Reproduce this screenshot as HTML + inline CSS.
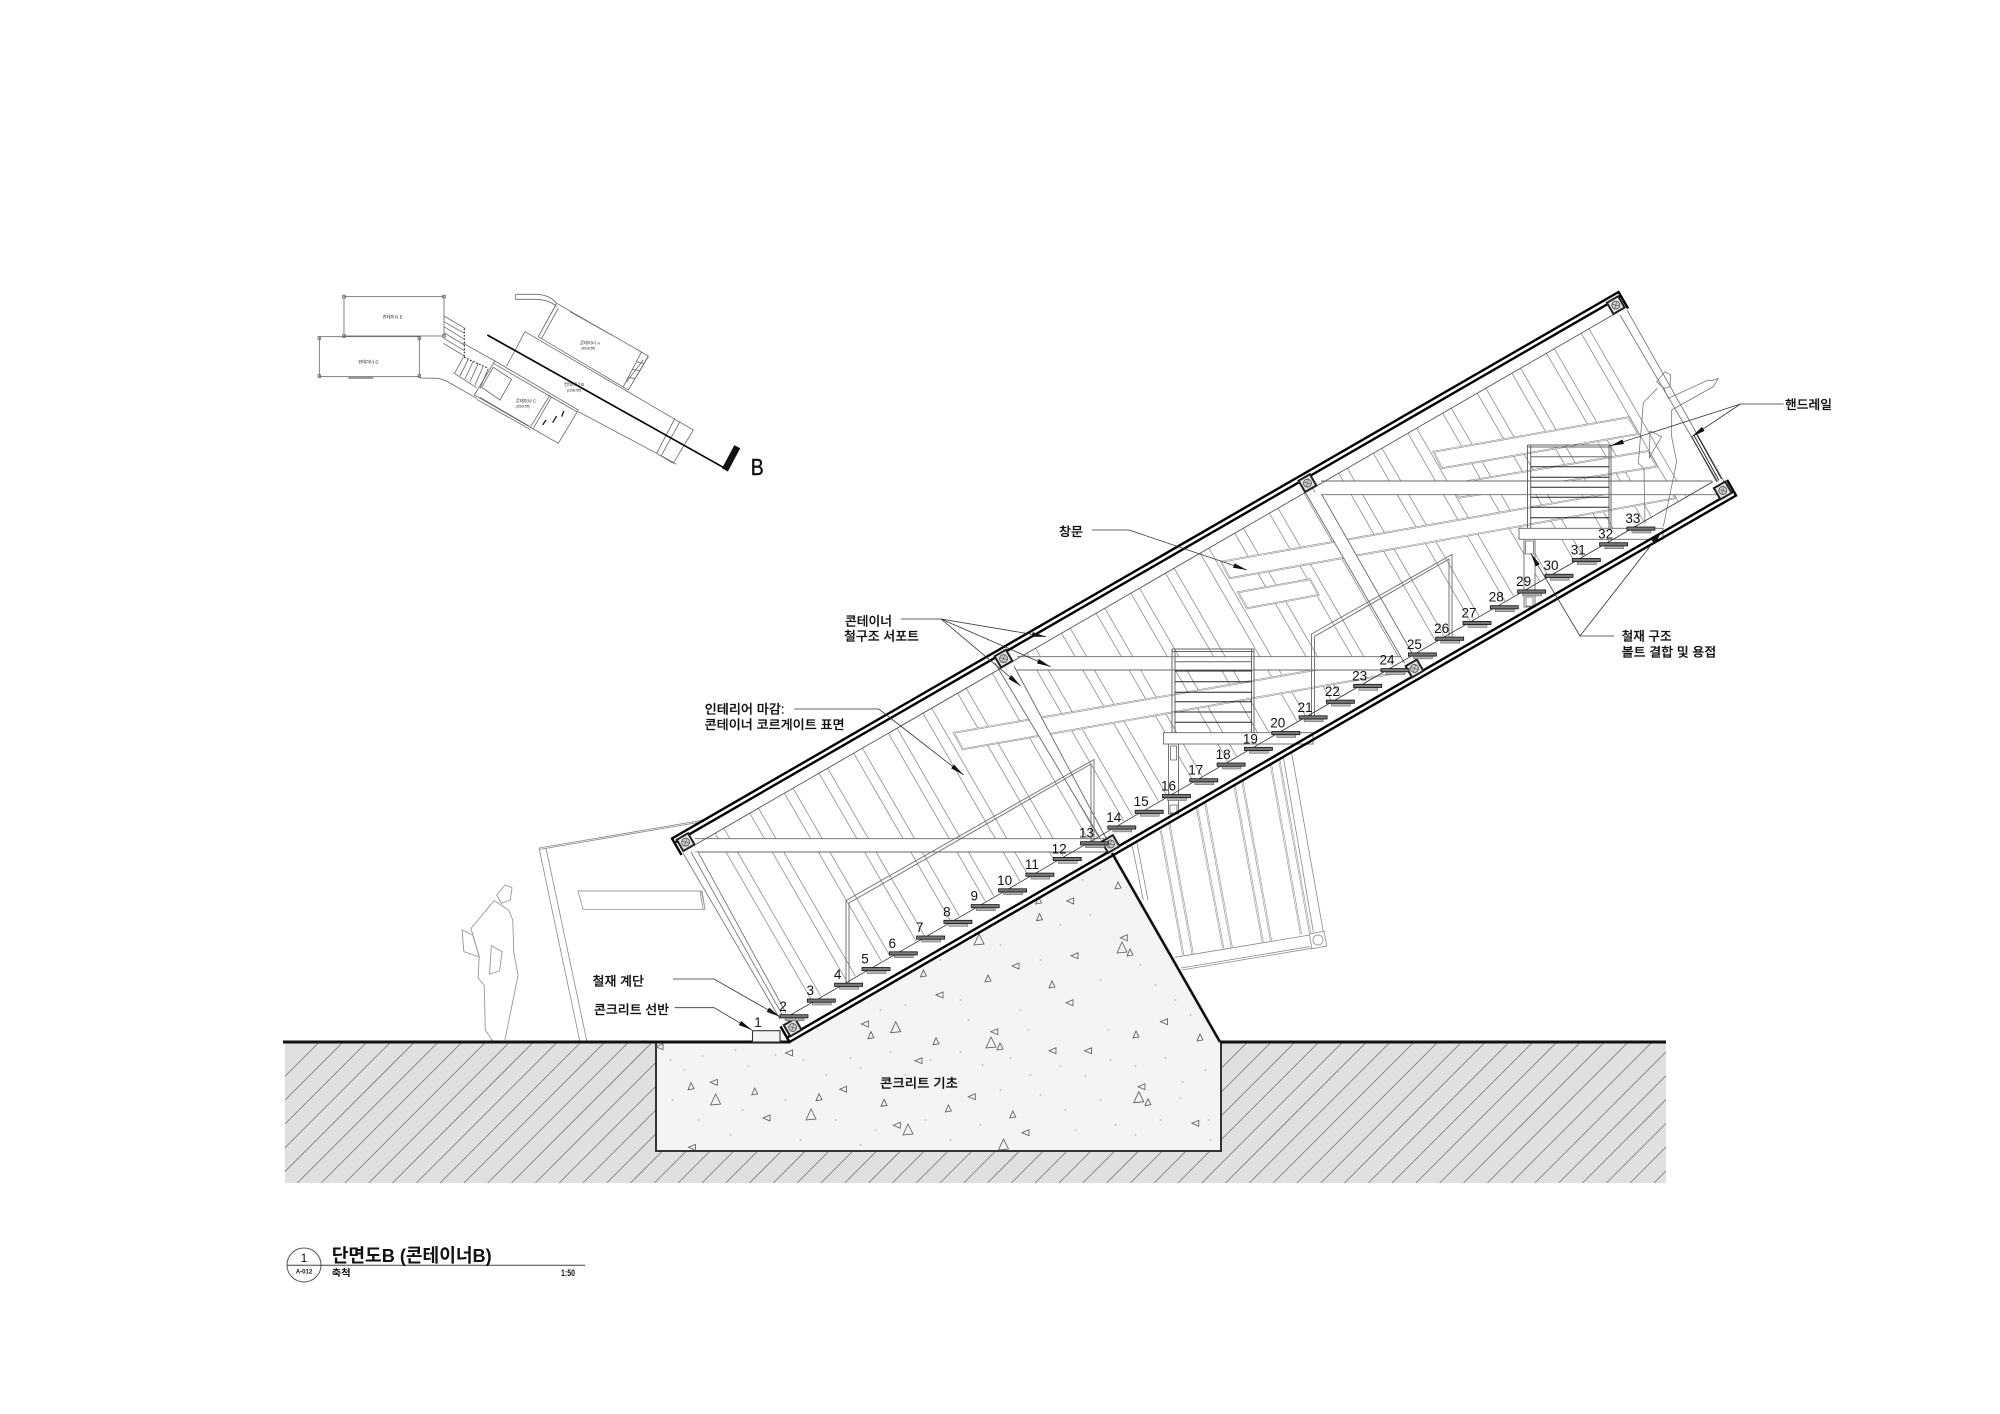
<!DOCTYPE html>
<html lang="ko"><head><meta charset="utf-8"><title>단면도B (콘테이너B)</title>
<style>html,body{margin:0;padding:0;background:#fff}svg{display:block;position:absolute;left:0;top:0}
text{font-family:"Liberation Sans","Noto Sans CJK KR",sans-serif;fill:#111}
.l{font-size:12.5px;font-weight:500;stroke:#111;stroke-width:.18px}.n{font-size:13.5px;text-anchor:middle}.m{font-size:13px;text-anchor:middle;fill:#222}</style></head>
<body>
<svg width="2000" height="1414" viewBox="0 0 2000 1414" xmlns="http://www.w3.org/2000/svg" fill="none">
<defs>
<marker id="a" markerUnits="userSpaceOnUse" markerWidth="15" markerHeight="7" refX="14" refY="3" orient="auto"><path d="M0,0.6 L14,3 L0,5.4 Z" fill="#111"/></marker>
<g id="s"><rect x="-9" y="1.2" width="19" height="2.8" fill="#b5b5b5" stroke="#555" stroke-width=".5"/><rect x="-14" y="-2" width="28" height="3.2" fill="#777" stroke="#111" stroke-width=".8"/></g>
<g id="p"><rect x="-7.5" y="-7.5" width="15" height="15" fill="#222"/><rect x="-5.5" y="-5.5" width="11" height="11" fill="#e4e4e4"/><circle r="4" fill="#ccc" stroke="#444" stroke-width=".7"/><path d="M-2.6,-2.6L2.6,2.6M-2.6,2.6L2.6,-2.6" stroke="#555" stroke-width=".6"/></g>
<path id="t" d="M-3,3 L3,2 L0,-4 Z" stroke="#555" stroke-width=".8"/>
<path id="u" d="M3,-3 L3,3 L-4,0 Z" stroke="#555" stroke-width=".8"/>
<path id="T" d="M-5,5 L5,4 L0,-6 Z" stroke="#555" stroke-width=".8"/>
</defs>

<!-- ground -->
<rect x="285" y="1042" width="1381" height="141" fill="#e0e0e0"/>
<clipPath id="gc"><rect x="285" y="1043" width="1381" height="140"/></clipPath>
<path clip-path="url(#gc)" stroke="#777" stroke-width=".8" d="M178.3,1183 l141,-141 M202.1,1183 l141,-141 M225.9,1183 l141,-141 M249.7,1183 l141,-141 M273.5,1183 l141,-141 M297.3,1183 l141,-141 M321.1,1183 l141,-141 M344.9,1183 l141,-141 M368.7,1183 l141,-141 M392.5,1183 l141,-141 M416.3,1183 l141,-141 M440.1,1183 l141,-141 M463.9,1183 l141,-141 M487.7,1183 l141,-141 M511.5,1183 l141,-141 M535.3,1183 l141,-141 M559.1,1183 l141,-141 M582.9,1183 l141,-141 M606.7,1183 l141,-141 M630.5,1183 l141,-141 M654.3,1183 l141,-141 M678.1,1183 l141,-141 M701.9,1183 l141,-141 M725.7,1183 l141,-141 M749.5,1183 l141,-141 M773.3,1183 l141,-141 M797.1,1183 l141,-141 M820.9,1183 l141,-141 M844.7,1183 l141,-141 M868.5,1183 l141,-141 M892.3,1183 l141,-141 M916.1,1183 l141,-141 M939.9,1183 l141,-141 M963.7,1183 l141,-141 M987.5,1183 l141,-141 M1011.3,1183 l141,-141 M1035.1,1183 l141,-141 M1058.9,1183 l141,-141 M1082.7,1183 l141,-141 M1106.5,1183 l141,-141 M1130.3,1183 l141,-141 M1154.1,1183 l141,-141 M1177.9,1183 l141,-141 M1201.7,1183 l141,-141 M1225.5,1183 l141,-141 M1249.3,1183 l141,-141 M1273.1,1183 l141,-141 M1296.9,1183 l141,-141 M1320.7,1183 l141,-141 M1344.5,1183 l141,-141 M1368.3,1183 l141,-141 M1392.1,1183 l141,-141 M1415.9,1183 l141,-141 M1439.7,1183 l141,-141 M1463.5,1183 l141,-141 M1487.3,1183 l141,-141 M1511.1,1183 l141,-141 M1534.9,1183 l141,-141 M1558.7,1183 l141,-141 M1582.5,1183 l141,-141 M1606.3,1183 l141,-141 M1630.1,1183 l141,-141 M1653.9,1183 l141,-141"/>

<!-- rear container left -->
<path stroke="#888" stroke-width=".8" d="M539,848L704,820M539,849.5L704,821.5M539,848L580,1042M546,848L587,1042"/>
<path stroke="#999" stroke-width=".9" d="M578,891H701.4L705,909.3H582.9ZM700,891L703,909M702,891L705,909"/>
<!-- left person -->
<g transform="translate(280,840) scale(.357,.3333)" stroke="#999" stroke-width="2.6">
<path d="M630,135L650,143L645,180L620,190L607,165Z"/>
<path d="M600,182L640,210L652,240L655,340L667,405L630,600M597,605L575,570L572,435L555,415L558,350L535,265L600,182"/>
<path d="M510,270L540,285L558,350L515,335Z"/>
<path d="M592,317L622,335L615,393L587,402Z"/>
</g>

<!-- rear container right -->
<path stroke="#999" stroke-width="2" d="M1160.7,830L1183.3,955M1169.3,823.3L1192.7,954M1196.7,806.7L1223.3,948.3M1205,801.7L1231.7,947.3M1234.3,785L1262.7,941.7M1242.3,780.7L1271,940.7M1270.7,763.3L1301,934.3M1279,758.3L1310,933.3"/>
<path stroke="#fff" stroke-width=".7" d="M1160.7,830L1183.3,955M1169.3,823.3L1192.7,954M1196.7,806.7L1223.3,948.3M1205,801.7L1231.7,947.3M1234.3,785L1262.7,941.7M1242.3,780.7L1271,940.7M1270.7,763.3L1301,934.3M1279,758.3L1310,933.3"/>
<path stroke="#888" stroke-width=".8" d="M1283.3,756.7L1313.3,931.7M1291.7,753.3L1323.3,931.7M1131.7,843.3L1143.3,900M1137,843L1148,900M1175,957.3L1310,935M1181.7,970L1311.7,948.3M1181,968L1310,946.5"/>
<g transform="translate(1318,940) rotate(-10)" stroke="#999" stroke-width=".9"><rect x="-7.5" y="-7.5" width="15" height="15"/><circle r="5"/></g>

<!-- concrete foundation -->
<path d="M656,1042H789.5L1112,853L1220,1042V1151H656Z" fill="#f4f4f4"/>
<path stroke="#333" stroke-width="2" d="M656,1042V1151H1221V1042"/>
<path stroke="#111" stroke-width="2.6" d="M1112,853L1220,1042"/>
<path stroke="#111" stroke-width="3" d="M283,1042H790M1220,1042H1666"/>
<path stroke="#999" stroke-width=".9" stroke-linecap="round" d="M670,1060h1M684,1070h1M702,1056h1M735,1050h1M748,1066h1M775,1055h1M803,1060h1M826,1075h1M850,1058h1M860,1068h1M890,1052h1M905,1075h1M930,1060h1M960,1052h1M982,1065h1M1010,1058h1M1030,1075h1M1060,1066h1M1085,1076h1M1110,1060h1M1135,1066h1M1165,1058h1M1182,1082h1M1205,1070h1M672,1100h1M698,1120h1M730,1135h1M742,1110h1M785,1100h1M800,1140h1M835,1120h1M860,1145h1M875,1130h1M925,1120h1M950,1140h1M980,1125h1M1000,1090h1M1040,1095h1M1065,1110h1M1075,1130h1M1100,1100h1M1115,1125h1M1135,1135h1M1160,1120h1M1180,1098h1M1208,1120h1M1210,1140h1M850,1000h1M880,1010h1M905,1005h1M940,960h1M960,1000h1M1000,945h1M1020,1010h1M1040,960h1M1060,925h1M1090,915h1M1100,980h1M1140,965h1M1155,985h1M1175,1000h1M1190,1015h1M1108,1030h1M1028,1030h1M968,1020h1M1082,880h1M1100,870h1M1065,880h1"/>
<use href="#t" x="1118" y="886"/><use href="#t" x="1038.6" y="901"/><use href="#u" x="1070.7" y="901"/><use href="#t" x="1039.5" y="917.7"/><use href="#u" x="1124.3" y="937.7"/><use href="#T" x="1122" y="948"/><use href="#t" x="1130" y="953"/><use href="#T" x="979" y="940"/><use href="#u" x="1075" y="955.7"/><use href="#u" x="1016" y="966"/><use href="#t" x="923.4" y="974"/><use href="#t" x="988" y="979"/><use href="#t" x="1052" y="985"/><use href="#u" x="940" y="995"/><use href="#u" x="1070" y="1002.7"/><use href="#u" x="1164.5" y="1021.7"/><use href="#t" x="1200" y="1038"/><use href="#t" x="1136" y="1035"/><use href="#u" x="865.4" y="1024"/><use href="#T" x="895.7" y="1027.7"/><use href="#t" x="871" y="1035.7"/><use href="#t" x="936" y="1041.7"/><use href="#u" x="994.8" y="1031.7"/><use href="#T" x="991" y="1043"/><use href="#t" x="1000" y="1047"/><use href="#u" x="1053" y="1050.7"/><use href="#u" x="1088.6" y="1050.7"/><use href="#u" x="789.5" y="1053"/><use href="#u" x="919" y="1060.7"/><use href="#u" x="660" y="1046.7"/><use href="#u" x="714.3" y="1082.3"/><use href="#t" x="691" y="1086.7"/><use href="#t" x="754.7" y="1092"/><use href="#T" x="715.6" y="1100"/><use href="#t" x="819" y="1097.7"/><use href="#u" x="843.6" y="1089.3"/><use href="#T" x="811" y="1115"/><use href="#u" x="767" y="1118"/><use href="#t" x="884" y="1103.3"/><use href="#t" x="948.4" y="1109"/><use href="#u" x="897.3" y="1125.3"/><use href="#T" x="908" y="1130"/><use href="#u" x="972.3" y="1096.7"/><use href="#t" x="1012.8" y="1115"/><use href="#u" x="1026" y="1132.7"/><use href="#T" x="1003.5" y="1145"/><use href="#u" x="1142" y="1086.7"/><use href="#T" x="1138.8" y="1097.7"/><use href="#t" x="1148" y="1102.7"/><use href="#u" x="1195.8" y="1123.3"/><use href="#u" x="692.4" y="1147.3"/>

<!-- container interior, hatch -->
<g transform="translate(789.5,1042) rotate(-30)">
<path stroke="#8c8c8c" stroke-width=".8" d="M40,-218V-24M50,-218V-24M80,-218V-24M90,-218V-24M120,-218V-24M130,-218V-24M160,-218V-24M170,-218V-24M200,-218V-24M210,-218V-24M240,-218V-24M250,-218V-24M280,-218V-24M290,-218V-24M320,-218V-24M330,-218V-24M360,-218V-24M370,-218V-24M400,-218V-24M410,-218V-24M440,-218V-24M450,-218V-24M480,-218V-24M490,-218V-24M520,-218V-24M530,-218V-24M560,-218V-24M570,-218V-24M600,-218V-24M610,-218V-24M640,-218V-24M650,-218V-24M680,-218V-24M690,-218V-24M720,-218V-24M730,-218V-24M760,-218V-24M770,-218V-24M800,-218V-24M810,-218V-24M840,-218V-24M850,-218V-24M880,-218V-24M890,-218V-24M920,-218V-24M930,-218V-24M960,-218V-24M970,-218V-24M1000,-218V-24M1009,-218V-24M1040,-218V-24M1049,-218V-24"/>
</g>

<!-- windows -->
<g fill="#fff" stroke="#8a8a8a" stroke-width="1.8">
<path d="M1221,561.7L1668,483L1675,498.3L1229.6,578.3Z"/>
<path d="M1433.4,451.7L1628.6,417.3L1638.3,434L1442,468.3Z"/>
<path d="M1450,484L1648.3,451L1656.7,466.7L1459,497.7Z"/>
<path d="M1238,592.3L1310,579.3L1318.6,595L1247,608.3Z"/>
<path d="M953.8,732.7L1390,657L1402,672L962.7,749.3Z"/>
</g>
<g stroke="#fff" stroke-width=".6">
<path d="M1221,561.7L1668,483L1675,498.3L1229.6,578.3Z"/>
<path d="M1433.4,451.7L1628.6,417.3L1638.3,434L1442,468.3Z"/>
<path d="M1450,484L1648.3,451L1656.7,466.7L1459,497.7Z"/>
<path d="M1238,592.3L1310,579.3L1318.6,595L1247,608.3Z"/>
<path d="M953.8,732.7L1390,657L1402,672L962.7,749.3Z"/>
</g>

<!-- beams -->
<g fill="#fff" stroke="none"><rect x="693" y="838.7" width="412" height="13.3"/><rect x="1017" y="656.7" width="385" height="13.3"/><rect x="1321" y="481" width="396" height="13.7"/></g>
<path stroke="#666" stroke-width=".9" d="M695,838.7H1104M695,852H1106M1017,656.7H1402M1017,670H1395M1321,481H1712M1321,494.7H1717"/>
<!-- diagonal supports -->
<path fill="#fff" d="M997,667L1016,668L1106,838H1100Z"/>
<path stroke="#666" stroke-width=".9" d="M995,663L1100,838M1014,666L1106,838"/>
<path fill="#fff" d="M1304,490L1321.5,494L1418,664L1405,664Z"/>
<path stroke="#666" stroke-width=".9" d="M1304,490L1404.7,663.3M1321.5,494L1416,660"/>
<path fill="#fff" d="M683,853L698,852L786,1015L778,1018Z"/>
<path stroke="#777" stroke-width=".9" d="M683,853L780,1019M691,852L784,1018M698,852L786,1013"/>
<path fill="#fff" d="M1620,315L1627,310L1727,487L1718,482Z" stroke="none"/>
<path stroke="#777" stroke-width=".9" d="M1620,315L1718,482M1627,310L1727,487"/>
<path stroke="#222" stroke-width=".9" d="M1691.7,436.7L1716.7,481.7M1694,435.5L1719,480.5M1696.5,434L1721.5,479"/>

<!-- rear-lying columns under landings -->
<rect x="1168.5" y="744" width="10" height="70" fill="#fff" stroke="#666" stroke-width=".9"/>
<rect x="1170.5" y="746" width="6" height="14" stroke="#555" stroke-width=".7"/>
<rect x="1170" y="805" width="7" height="8" stroke="#555" stroke-width=".7"/>
<rect x="1524" y="539" width="11" height="68" fill="#fff" stroke="#666" stroke-width=".9"/>
<rect x="1525.5" y="541" width="8" height="13" stroke="#555" stroke-width=".7"/>
<rect x="1526" y="597" width="7" height="9" stroke="#555" stroke-width=".7"/>

<!-- landing 1 -->
<rect x="1163.6" y="732.7" width="149.4" height="11.3" fill="#fff" stroke="#666" stroke-width=".9"/>
<path stroke="#666" stroke-width="1" d="M1172,649V732.7M1175,649V732.7M1251.5,649V732.7M1254,649V732.7M1172,649H1254M1172,651.5H1254M1175,661.7H1252"/>
<path stroke="#222" stroke-width="1" d="M1175,671H1252M1175,681.7H1252M1175,692.3H1252M1175,701.7H1252M1175,712H1252M1175,722.3H1252"/>
<!-- landing 2 -->
<rect x="1519" y="528.3" width="144" height="11" fill="#fff" stroke="#666" stroke-width=".9"/>
<path stroke="#666" stroke-width="1" d="M1527.5,445V528.3M1530.7,445V528.3M1609,445V528.3M1611,445V528.3M1527.5,445H1611M1527.5,447H1611M1530.7,456.7H1609"/>
<path stroke="#222" stroke-width="1" d="M1530.7,466.7H1609M1530.7,477.3H1609M1530.7,487.3H1609M1530.7,497.3H1609M1530.7,507.3H1609M1530.7,517.7H1609"/>

<!-- railings -->
<path stroke="#777" stroke-width="1" d="M846,985V900.5L1094,759.5V842M849,985V903L1091,764V842"/>
<path stroke="#777" stroke-width="1" d="M1311.5,717V634L1452,554.5V638M1314.5,717V636.5L1449,559V638"/>

<!-- right person -->
<g transform="translate(1500,290) scale(.3333)" stroke="#777" stroke-width="2.4">
<path d="M495,245L512,255L510,290L492,295L470,275Z"/>
<path d="M472,295L430,338L415,520L432,535L435,700M490,710L530,515L515,440L515,360M492,295L505,325L625,270L635,272L655,265L640,290L515,360"/>
<path d="M450,423L485,440L455,490L448,505Z"/>
</g>

<!-- chords and posts -->
<g transform="translate(789.5,1042) rotate(-30)">
<path stroke="#555" stroke-width=".9" d="M18,-218L1084,-218"/>
<path stroke="#000" stroke-width="2.4" d="M-1,-235H1094M0,-230H1093M-1,0H1094M0,-5H1093M0,-235V-216M1093,-235V-216M0,0V-18M1093,0V-18"/>
<use href="#p" x="10" y="-225"/><use href="#p" x="377" y="-225"/><use href="#p" x="728" y="-225"/><use href="#p" x="1084" y="-225"/>
<use href="#p" x="10" y="-11"/><use href="#p" x="377" y="-11"/><use href="#p" x="728" y="-11"/><use href="#p" x="1084" y="-11"/>
</g>

<!-- stair -->
<path stroke="#333" stroke-width=".8" d="M787,1017L1713,481.6"/>
<rect x="752.5" y="1030.7" width="27.5" height="11.3" fill="#f4f4f4" stroke="#333" stroke-width="1.1"/>
<use href="#s" x="794" y="1016.7"/><use href="#s" x="821.3" y="1001"/><use href="#s" x="848.6" y="985.2"/><use href="#s" x="876" y="969.5"/><use href="#s" x="903.3" y="953.8"/><use href="#s" x="930.6" y="938"/><use href="#s" x="957.9" y="922.3"/><use href="#s" x="985.2" y="906.6"/><use href="#s" x="1012.6" y="890.8"/><use href="#s" x="1039.9" y="875.1"/><use href="#s" x="1067.2" y="859.4"/><use href="#s" x="1094.5" y="843.7"/><use href="#s" x="1121.8" y="827.9"/><use href="#s" x="1149.2" y="812.2"/><use href="#s" x="1176.5" y="796.5"/><use href="#s" x="1203.8" y="780.7"/><use href="#s" x="1231.1" y="765"/><use href="#s" x="1258.4" y="749.3"/><use href="#s" x="1285.8" y="733.5"/><use href="#s" x="1313.1" y="717.8"/><use href="#s" x="1340.4" y="702.1"/><use href="#s" x="1367.7" y="686.3"/><use href="#s" x="1395" y="670.6"/><use href="#s" x="1422.4" y="654.9"/><use href="#s" x="1449.7" y="639.1"/><use href="#s" x="1477" y="623.4"/><use href="#s" x="1504.3" y="607.7"/><use href="#s" x="1531.6" y="591.9"/><use href="#s" x="1559" y="576.2"/><use href="#s" x="1586.3" y="560.5"/><use href="#s" x="1613.6" y="544.7"/><use href="#s" x="1640.9" y="529"/>
<g>
<text class="n" x="758" y="1027">1</text><text class="n" x="783" y="1011">2</text><text class="n" x="810.3" y="995">3</text><text class="n" x="837.6" y="979.2">4</text><text class="n" x="865" y="963.5">5</text><text class="n" x="892.3" y="947.8">6</text><text class="n" x="919.6" y="932">7</text><text class="n" x="946.9" y="916.3">8</text><text class="n" x="974.2" y="900.6">9</text>
<text class="n" x="1004.6" y="884.8">10</text><text class="n" x="1031.9" y="869.1">11</text><text class="n" x="1059.2" y="853.4">12</text><text class="n" x="1086.5" y="837.7">13</text><text class="n" x="1113.8" y="821.9">14</text><text class="n" x="1141.2" y="806.2">15</text><text class="n" x="1168.5" y="790.5">16</text><text class="n" x="1195.8" y="774.7">17</text><text class="n" x="1223.1" y="759">18</text><text class="n" x="1250.4" y="743.3">19</text><text class="n" x="1277.8" y="727.5">20</text><text class="n" x="1305.1" y="711.8">21</text><text class="n" x="1332.4" y="696.1">22</text><text class="n" x="1359.7" y="680.3">23</text><text class="n" x="1387" y="664.6">24</text><text class="n" x="1414.4" y="648.9">25</text><text class="n" x="1441.7" y="633.1">26</text><text class="n" x="1469" y="617.4">27</text><text class="n" x="1496.3" y="601.7">28</text><text class="n" x="1523.6" y="585.9">29</text><text class="n" x="1551" y="570.2">30</text><text class="n" x="1578.3" y="554.5">31</text><text class="n" x="1605.6" y="538.7">32</text><text class="n" x="1632.9" y="523">33</text>
</g>

<!-- leaders -->
<g stroke="#333" stroke-width=".8">
<path marker-end="url(#a)" d="M1092,530H1129L1247,570"/>
<path marker-end="url(#a)" d="M901,619H941L1046,636.7"/>
<path marker-end="url(#a)" d="M941,619L1050.6,666.7"/>
<path marker-end="url(#a)" d="M941,619L1020.7,686"/>
<path marker-end="url(#a)" d="M794,709H878.8L963.6,775"/>
<path marker-end="url(#a)" d="M673,979H714L780,1016.7"/>
<path marker-end="url(#a)" d="M674.6,1007.7H714L752,1030"/>
<path marker-end="url(#a)" d="M1783.6,404H1740.5L1610,446"/>
<path marker-end="url(#a)" d="M1740.5,404L1691.7,436.7"/>
<path marker-end="url(#a)" d="M1614,636H1580L1530.7,553.3"/>
<path marker-end="url(#a)" d="M1580,636L1662,531"/>
</g>

<!-- labels -->
<text class="l" x="1059" y="536" textLength="24" lengthAdjust="spacingAndGlyphs">창문</text>
<text class="l" x="845" y="625.5" textLength="47" lengthAdjust="spacingAndGlyphs">콘테이너</text>
<text class="l" x="844" y="640.5" textLength="75" lengthAdjust="spacingAndGlyphs">철구조 서포트</text>
<text class="l" x="704.6" y="713.5" textLength="80" lengthAdjust="spacingAndGlyphs">인테리어 마감:</text>
<text class="l" x="704.6" y="729" textLength="140" lengthAdjust="spacingAndGlyphs">콘테이너 코르게이트 표면</text>
<text class="l" x="592.5" y="985.5" textLength="51.5" lengthAdjust="spacingAndGlyphs">철재 계단</text>
<text class="l" x="594" y="1014" textLength="75" lengthAdjust="spacingAndGlyphs">콘크리트 선반</text>
<text class="l" x="1785" y="409" textLength="47" lengthAdjust="spacingAndGlyphs">핸드레일</text>
<text class="l" x="1621.7" y="640.5" textLength="50" lengthAdjust="spacingAndGlyphs">철재 구조</text>
<text class="l" x="1621.7" y="656.5" textLength="94.5" lengthAdjust="spacingAndGlyphs">볼트 결합 및 용접</text>
<text class="l" x="880" y="1087.5" textLength="78" lengthAdjust="spacingAndGlyphs">콘크리트 기초</text>

<!-- title block -->
<circle cx="304" cy="1265" r="17" stroke="#555" stroke-width="1"/>
<path stroke="#444" stroke-width="1" d="M287,1265.3H585"/>
<text x="304" y="1262" font-size="12" text-anchor="middle">1</text>
<text x="304" y="1273.5" font-size="6" font-weight="700" text-anchor="middle">A-012</text>
<text x="331.7" y="1262" font-size="18.5" font-weight="700" textLength="160" lengthAdjust="spacingAndGlyphs">단면도B (콘테이너B)</text>
<text x="331.7" y="1276" font-size="9" font-weight="700" textLength="19" lengthAdjust="spacingAndGlyphs">축척</text>
<text x="561" y="1276" font-size="9" font-weight="700" textLength="14" lengthAdjust="spacingAndGlyphs">1:50</text>

<!-- mini plan -->
<g transform="translate(280,280) scale(.3333)" stroke="#666" stroke-width="2.4">
<rect x="192" y="50" width="300" height="118"/>
<rect x="118" y="170" width="300" height="120"/>
<path d="M188,46h8v8h-8zM488,46h8v8h-8zM188,164h8v8h-8zM488,164h8v8h-8zM114,170h8v8h-8zM414,170h8v8h-8zM114,284h8v8h-8zM414,284h8v8h-8z"/>
<path stroke-width="4" d="M205,294H280"/>
<path d="M492,108L555,145M492,125L553,160M492,140L553,178M492,158L553,195M492,175L553,212M490,190L553,228M550,190L645,243"/>
<path stroke="#111" stroke-width="3" stroke-dasharray="5 5" d="M553,145V230M552,232L625,265"/>
<path d="M520,278L590,323M550,232L525,278M565,238L540,288M580,243L555,297M595,250L570,305M610,258L585,315M625,265L600,325"/>
<path d="M420,294L470,295Q490,297 515,312L590,355"/>
<path d="M645,243L895,390L835,490L583,345L645,243M640,250L890,395"/>
<path d="M640,262L695,298L660,360L605,322ZM810,345L752,440M815,350L760,445M600,352L745,437M590,358L750,448"/>
<path stroke="#222" stroke-width="4" d="M788,435L798,420M818,428L830,408M845,410L852,393"/>
<path d="M735,155L1240,450L1180,550M735,155L680,258M895,395L1130,520L1180,550M1185,415L1130,520M1200,425L1145,525M1140,525L1190,553"/>
<path d="M830,70L1105,228L1045,330L775,170L830,70M707,43H770Q810,45 830,70M707,43V58H770Q810,60 830,80M825,80L775,170M835,85L785,175M1085,215L1030,320M1105,230L1045,330M1068,245L1090,250M1056,268L1078,272M1044,292L1066,296M1040,305L1090,240"/>
<path d="M870,95L995,165"/>
<path stroke="#000" stroke-width="5" d="M622,165L1335,565"/>
<path stroke="#111" stroke-width="20" d="M1335,570L1372,500"/>
<g stroke="none">
<text class="m" x="338" y="115">컨테이너 E</text>
<text class="m" x="265" y="250">컨테이너 D</text>
<text class="m" x="930" y="193">콘테이너 A</text>
<text class="m" x="925" y="209" style="font-size:10px">(40x8.5ft)</text>
<text class="m" x="882" y="318">컨테이너 B</text>
<text class="m" x="882" y="334" style="font-size:10px">(20x8.5ft)</text>
<text class="m" x="738" y="367">콘테이너 C</text>
<text class="m" x="728" y="382" style="font-size:10px">(20x8.5ft)</text>
</g>
</g>
<text x="750.7" y="475" font-size="23" textLength="13" lengthAdjust="spacingAndGlyphs" stroke="#111" stroke-width=".4">B</text>
</svg>
</body></html>
